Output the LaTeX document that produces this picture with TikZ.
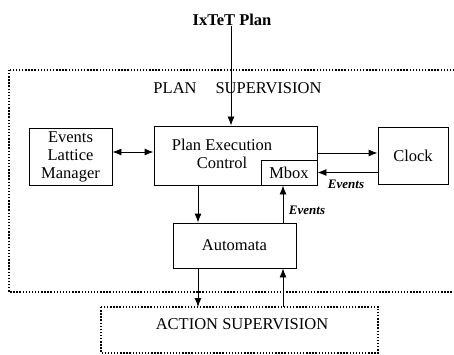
\documentclass[tikz,border=0pt]{standalone}
\usepackage{fontspec}
\setmainfont{Liberation Serif}
\usetikzlibrary{arrows.meta,calc}
\begin{document}
\begin{tikzpicture}[x=1pt,y=-1pt,
  box/.style={draw,line width=0.9pt,inner sep=0pt,minimum width=#1},
  lbl/.style={font=\fontsize{16.5}{18}\selectfont,align=center,inner sep=0pt},
  evt/.style={font=\fontsize{13}{14}\selectfont\bfseries\itshape,inner sep=0pt},
  arr/.style={line width=0.9pt,-{Latex[length=9pt,width=7pt]}},
  arrb/.style={line width=0.9pt,{Latex[length=9pt,width=7pt]}-{Latex[length=9pt,width=7pt]}},
  group/.style={line width=1.3pt,dash pattern=on 1.4pt off 1.7pt}]
\useasboundingbox (0,0) rectangle (454,355);
\clip (0,0) rectangle (454,355);

% supervision layers
\draw[group] (9,70) rectangle (470,292);
\node[lbl] (plansup) at (237.5,88) {PLAN\hspace{1.15em}SUPERVISION};
\draw[group] (101,307) rectangle (378,353);
\node[lbl] (actsup) at (242,324) {ACTION SUPERVISION};

% input
\node[lbl,font=\fontsize{16.5}{18}\selectfont\bfseries] (ixtet) at (232,20) {IxTeT Plan};

% modules
\node[box=83pt,minimum height=57pt] (elm) at (70.5,156.5) {};
\node[lbl] (elmtext) at (70.5,157) {Events\\Lattice\\Manager};
\node[box=163pt,minimum height=59pt] (pec) at (235.5,155.5) {};
\node[lbl] (pectext) at (222,154) {Plan Execution\\Control};
\node[box=56pt,minimum height=25pt,lbl,draw,line width=0.9pt] (mbox) at (289,172.5) {Mbox};
\node[box=70pt,minimum height=57pt,lbl,draw,line width=0.9pt] (clock) at (413,155.5) {Clock};
\node[box=123pt,minimum height=45pt,lbl,draw,line width=0.9pt] (auto) at (234.5,245.5) {Automata};

% connectors
\draw[arr] (ixtet.south -| 231,0) -- (pec.north -| 231,0);
\draw[arrb] (elm.east |- 0,152) -- (pec.west |- 0,152);
\draw[arr] (pec.east |- 0,153) -- (clock.west |- 0,153);
\draw[arr] (clock.west |- mbox.east) -- (mbox.east);
\node[evt] (evt1) at (346,184.5) {Events};
\draw[arr] (pec.south -| 198,0) -- (auto.north -| 198,0);
\draw[arr] (auto.north -| 283,0) -- (mbox.south -| 283,0);
\node[evt] (evt2) at (307,210) {Events};
\draw[arr] (auto.south -| 198,0) -- (198,307) coordinate (actin);
\draw[arr] (283,307) coordinate (actout) -- (auto.south -| 283,0);
\end{tikzpicture}
\end{document}
